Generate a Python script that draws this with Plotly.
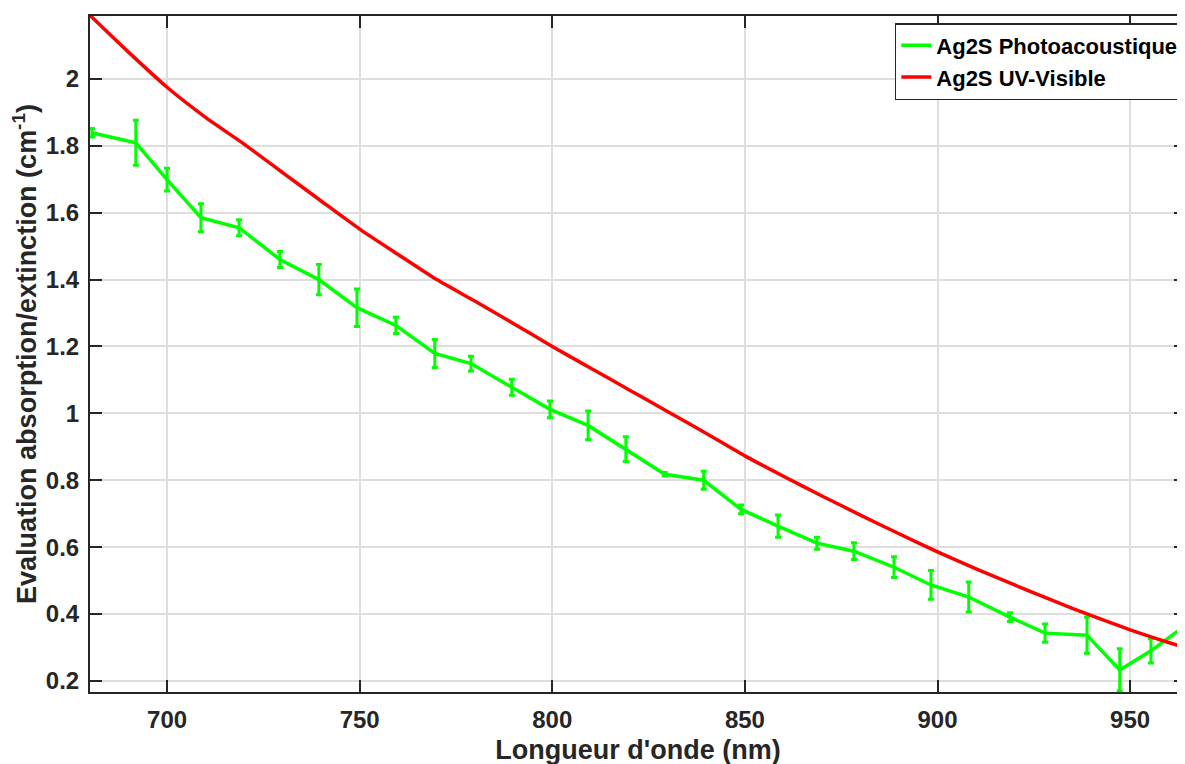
import plotly.graph_objects as go

# Photoacoustic measurements (green)
pa_wavelength = [680.5, 691.9, 700.0, 708.8, 718.7, 729.3, 739.4, 749.3, 759.4, 769.5,
                 778.9, 789.5, 799.4, 809.3, 819.1, 829.2, 839.3, 849.0, 858.6, 868.7,
                 878.3, 888.7, 898.3, 908.1, 918.8, 927.9, 938.8, 947.3, 955.4, 966.0]
pa_value = [1.839, 1.809, 1.699, 1.585, 1.555, 1.460, 1.400, 1.316, 1.263, 1.179,
            1.149, 1.078, 1.012, 0.964, 0.893, 0.818, 0.800, 0.713, 0.663, 0.612,
            0.588, 0.540, 0.487, 0.451, 0.391, 0.343, 0.337, 0.233, 0.290, 0.380]
pa_error = [0.013, 0.067, 0.034, 0.042, 0.024, 0.024, 0.045, 0.056, 0.024, 0.042,
            0.022, 0.024, 0.025, 0.043, 0.037, 0.005, 0.027, 0.013, 0.033, 0.018,
            0.025, 0.031, 0.043, 0.045, 0.013, 0.027, 0.054, 0.063, 0.036, 0.030]

# UV-Visible extinction (red)
uv_wavelength = [680, 690, 700, 710, 720, 730, 740, 750, 760, 770, 780, 790, 800, 810, 820,
                 830, 840, 850, 860, 870, 880, 890, 900, 910, 920, 930, 940, 950, 960, 965]
uv_value = [2.19, 2.08, 1.975, 1.885, 1.805, 1.72, 1.635, 1.551, 1.475, 1.40, 1.335, 1.268,
            1.20, 1.135, 1.07, 1.005, 0.94, 0.873, 0.812, 0.753, 0.696, 0.64, 0.586, 0.535,
            0.487, 0.44, 0.395, 0.353, 0.315, 0.297]

x_ticks = [700, 750, 800, 850, 900, 950]
y_ticks = [0.2, 0.4, 0.6, 0.8, 1.0, 1.2, 1.4, 1.6, 1.8, 2.0]
y_tick_labels = ["0.2", "0.4", "0.6", "0.8", "1", "1.2", "1.4", "1.6", "1.8", "2"]

FONT = "Liberation Sans, Arial, sans-serif"
TXT = "#262626"

fig = go.Figure()
fig.add_trace(go.Scatter(
    x=pa_wavelength, y=pa_value, mode="lines",
    name="Ag2S Photoacoustique",
    line=dict(color="#00ff00", width=3.5),
    error_y=dict(type="data", array=pa_error, visible=True,
                 color="#00ff00", thickness=3, width=3),
))
fig.add_trace(go.Scatter(
    x=uv_wavelength, y=uv_value, mode="lines",
    name="Ag2S UV-Visible",
    line=dict(color="#ff0000", width=3.5, shape="spline", smoothing=0.6),
))

axis_common = dict(
    showline=True, linecolor=TXT, linewidth=2, mirror="allticks",
    ticks="inside", ticklen=12, tickwidth=2, tickcolor=TXT,
    showgrid=True, gridcolor="#dedede", gridwidth=2,
    zeroline=False, automargin=False,
    tickfont=dict(family=FONT, size=24, color=TXT, weight="bold"),
)

fig.update_layout(
    width=1185, height=764,
    margin=dict(l=82, r=7, t=8, b=80),
    paper_bgcolor="white", plot_bgcolor="white",
    font=dict(family=FONT, color=TXT),
    xaxis=dict(
        range=[680, 964.5], tickvals=x_ticks, ticklabelstandoff=5,
        title=dict(text="Longueur d'onde (nm)", standoff=8,
                   font=dict(family=FONT, size=27, color=TXT, weight="bold")),
        **axis_common,
    ),
    yaxis=dict(
        range=[0.167, 2.188], tickvals=y_ticks, ticktext=y_tick_labels,
        ticklabelstandoff=4,
        title=dict(text="Evaluation absorption/extinction (cm<sup>-1</sup>)", standoff=6,
                   font=dict(family=FONT, size=27, color=TXT, weight="bold")),
        **axis_common,
    ),
    showlegend=True,
    legend=dict(
        x=0.998, y=0.9896, xanchor="right", yanchor="top",
        bgcolor="white", bordercolor=TXT, borderwidth=1.5,
        font=dict(family=FONT, size=22, color="black", weight="bold"),
        itemwidth=30, tracegroupgap=0,
    ),
)

fig.write_html("out.html")
